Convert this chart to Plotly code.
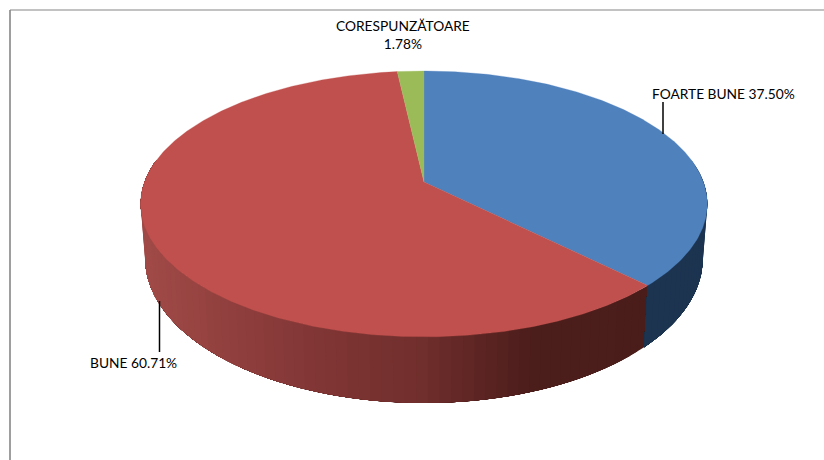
import numpy as np
import plotly.graph_objects as go

categories = ["FOARTE BUNE", "BUNE", "CORESPUNZĂTOARE"]
values = [37.50, 60.71, 1.78]
top_colors = ["#4f81bd", "#c0504d", "#9bbb59"]

W, H = 824, 460
CX = 424
K = 0.165
TOP = dict(a=279.4, b=129.3, yc=182.0)
BOT = dict(a=275.0, b=140.7, yc=234.5)

# side shading stops: horizontal position -> colour
RED_X = [150, 280, 424, 530, 700]
RED_R = [160, 135, 112, 76, 74]
RED_G = [74, 58, 46, 30, 29]
RED_B = [71, 57, 44, 28, 27]
BLUE_SIDE = "#1c3450"


def project(theta_deg, ring):
    t = np.radians(theta_deg)
    w = 1 + K * np.cos(t)
    return CX + ring["a"] * np.sin(t) / w, ring["yc"] - ring["b"] * np.cos(t) / w


def poly(x, y, color, width=0.0):
    return go.Scatter(x=list(x), y=list(y), mode="lines", fill="toself", fillcolor=color,
                      line=dict(color=color, width=width), hoverinfo="skip", showlegend=False)


share = np.array(values) / sum(values) * 360
edges = np.concatenate([[0], np.cumsum(share)])

fig = go.Figure()


def side(a, b, colorfn, band=2.0):
    # each band reaches to the end of the arc and the next one is painted over it,
    # so neighbouring bands leave no hairline seams
    steps = max(1, int(abs(b - a) / band))
    grid = np.linspace(a, b, steps + 1)
    for t0, t1 in zip(grid[:-1], grid[1:]):
        arc = np.linspace(t0, b, max(2, int((b - t0) / 2) + 2))
        xt, yt = project(arc, TOP)
        xb, yb = project(arc[::-1], BOT)
        xs = np.concatenate([xt, xb, xt[:1]])
        ys = np.concatenate([yt, yb, yt[:1]])
        mid_x = (project(t0, TOP)[0] + project(t1, TOP)[0]) / 2
        fig.add_trace(poly(xs, ys, colorfn(mid_x)))


def red_side(x):
    return "rgb(%d,%d,%d)" % (np.interp(x, RED_X, RED_R), np.interp(x, RED_X, RED_G), np.interp(x, RED_X, RED_B))


side(edges[1], 280, red_side)
side(80, edges[1], lambda x: BLUE_SIDE)

for i, color in enumerate(top_colors):
    arc = np.linspace(edges[i], edges[i + 1], max(3, int(share[i] * 2)))
    xa, ya = project(arc, TOP)
    fig.add_trace(poly(np.concatenate([[CX], xa, [CX]]),
                       np.concatenate([[TOP["yc"]], ya, [TOP["yc"]]]), color, 0.3))

labels = [
    dict(x=723, y=93, text=f"{categories[0]} {values[0]:.2f}%"),
    dict(x=133.5, y=362, text=f"{categories[1]} {values[1]:.2f}%"),
    dict(x=403, y=34.5, text=f"{categories[2]}<br>{values[2]:.2f}%"),
]
for lab in labels:
    fig.add_annotation(x=lab["x"], y=lab["y"], text=lab["text"], showarrow=False,
                       xanchor="center", yanchor="middle",
                       font=dict(family="Lato", size=13.75, color="#000000"))

line_common = dict(type="line", xref="x", yref="y")
shapes = [
    dict(x0=10, x1=10, y0=10, y1=460, line=dict(color="#868686", width=1.6), **line_common),
    dict(x0=10, x1=824, y0=10, y1=10, line=dict(color="#868686", width=1.2), **line_common),
    dict(x0=663, x1=663, y0=102, y1=134, line=dict(color="#000000", width=1.5), **line_common),
    dict(x0=159.5, x1=159.5, y0=301, y1=352, line=dict(color="#000000", width=1.5), **line_common),
]

fig.update_layout(
    width=W, height=H, margin=dict(l=0, r=0, t=0, b=0),
    paper_bgcolor="white", plot_bgcolor="white", showlegend=False, shapes=shapes,
    xaxis=dict(range=[0, W], visible=False, fixedrange=True),
    yaxis=dict(range=[H, 0], visible=False, fixedrange=True),
)
fig.write_html("out.html", post_script="document.body.style.margin='0';document.body.style.overflow='hidden';",
               config=dict(displayModeBar=False))
